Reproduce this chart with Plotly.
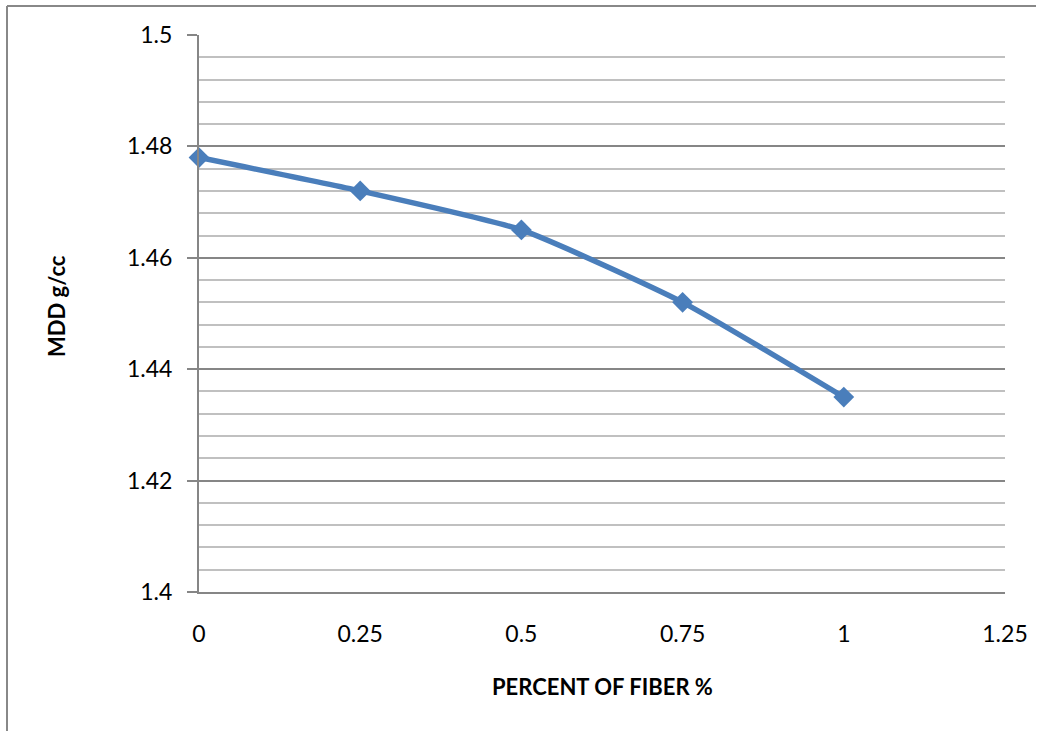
import plotly.graph_objects as go

fiber_pct = [0, 0.25, 0.5, 0.75, 1]
mdd = [1.478, 1.472, 1.465, 1.452, 1.435]
x_ticks = [0, 0.25, 0.5, 0.75, 1, 1.25]
x_tick_text = ["0", "0.25", "0.5", "0.75", "1", "1.25"]
y_ticks = [1.4, 1.42, 1.44, 1.46, 1.48, 1.5]
y_tick_text = ["1.4", "1.42", "1.44", "1.46", "1.48", "1.5"]
x_title = "PERCENT OF FIBER %"
y_title = "MDD g/cc"

FONT = "Lato, Carlito, Calibri, 'Open Sans', sans-serif"
L, R, T, B = 199, 1005, 35, 592
PW, PH = R - L, B - T

fig = go.Figure()
fig.add_trace(go.Scatter(
    x=fiber_pct, y=mdd, mode="lines+markers",
    line=dict(color="#4A7EBB", width=5.5, shape="spline", smoothing=0.5),
    marker=dict(symbol="diamond", size=16, color="#4A7EBB"),
    showlegend=False, cliponaxis=False,
))

fig.update_layout(
    width=1045, height=731,
    margin=dict(l=L, r=1045 - R, t=T, b=731 - B),
    paper_bgcolor="white", plot_bgcolor="white",
    font=dict(family=FONT, size=23, color="black"),
    xaxis=dict(
        range=[0, 1.25], tickvals=x_ticks, ticktext=x_tick_text,
        showgrid=False, zeroline=False, showline=True, linecolor="#868686", linewidth=2,
        ticks="", ticklabelstandoff=20,
    ),
    yaxis=dict(
        range=[1.4, 1.5], tickvals=y_ticks, ticktext=y_tick_text,
        showgrid=True, gridcolor="#868686", gridwidth=1.5,
        zeroline=False, showline=True, linecolor="#868686", linewidth=2,
        ticks="outside", ticklen=10, tickcolor="#868686", tickwidth=1.5,
        ticklabelstandoff=10,
        minor=dict(dtick=0.004, tick0=1.4, showgrid=True, gridcolor="#C0C0C0", gridwidth=1.5, ticks=""),
    ),
    annotations=[
        dict(text="<b>" + x_title + "</b>", xref="paper", yref="paper",
             x=0.5, y=-(686 - B) / PH, xanchor="center", yanchor="middle",
             showarrow=False, font=dict(size=22)),
        dict(text="<b>" + y_title + "</b>", xref="paper", yref="paper",
             x=(56 - L) / PW, y=1 - (306 - T) / PH, xanchor="center", yanchor="middle",
             textangle=-90, showarrow=False, font=dict(size=22)),
    ],
    shapes=[
        dict(type="line", xref="paper", yref="paper",
             x0=(7 - L) / PW, x1=(7 - L) / PW, y0=1 + (T - 6) / PH, y1=-(760 - B) / PH,
             line=dict(color="#888888", width=2)),
        dict(type="line", xref="paper", yref="paper",
             x0=(7 - L) / PW, x1=(1036 - L) / PW, y0=1 + (T - 6) / PH, y1=1 + (T - 6) / PH,
             line=dict(color="#888888", width=2)),
    ],
)

fig.write_html("out.html")
